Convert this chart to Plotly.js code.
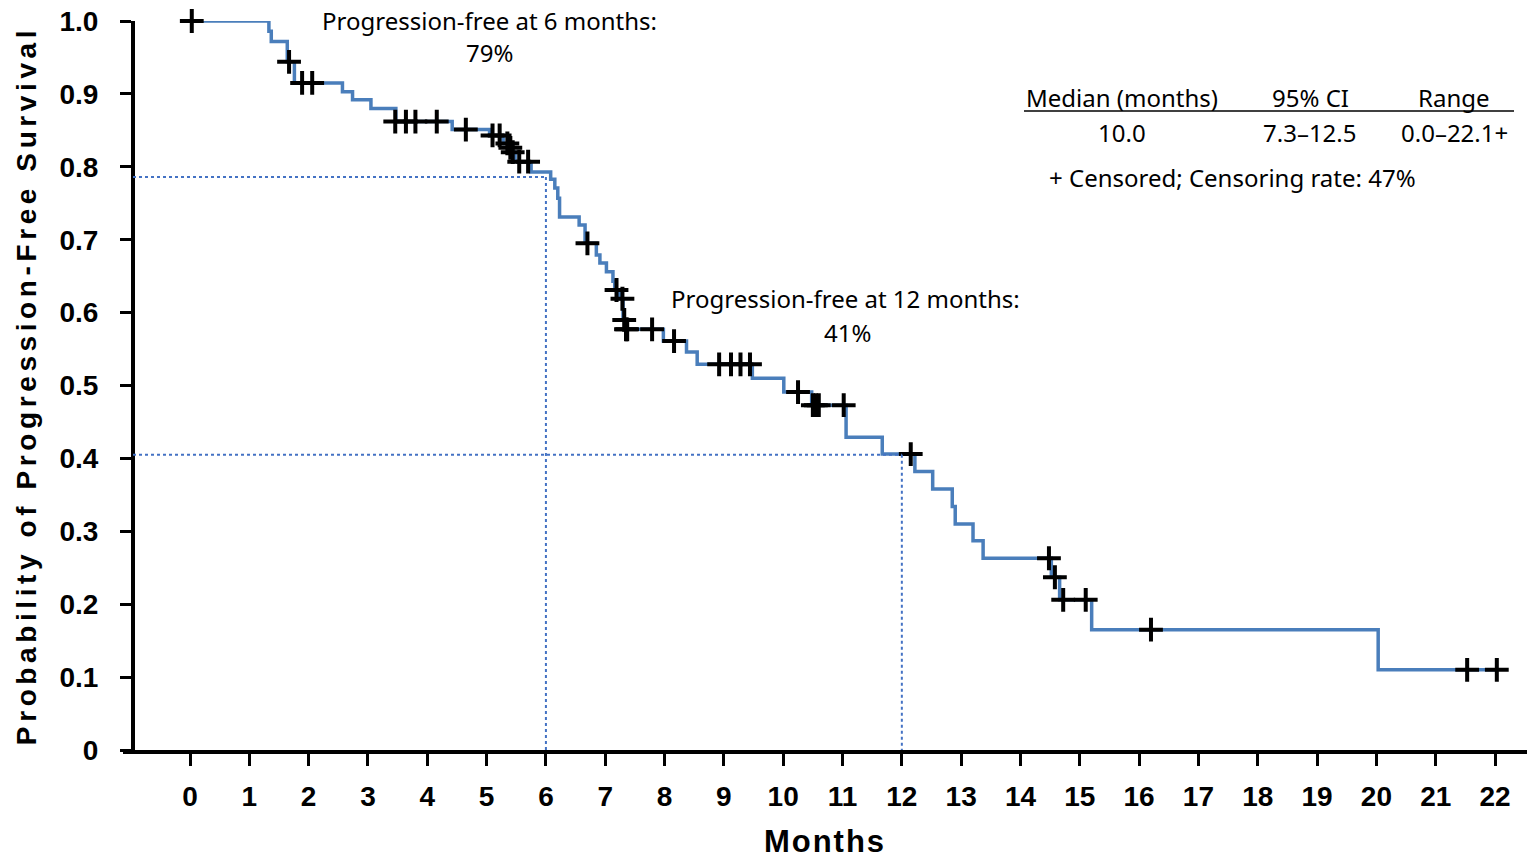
<!DOCTYPE html>
<html>
<head>
<meta charset="utf-8">
<script src="https://cdn.plot.ly/plotly-3.0.1.min.js"></script>
<style>
  html, body { margin: 0; padding: 0; background: #fff; }
  #chart { width: 1527px; height: 859px; }
  .ytitle { letter-spacing: 4.6px; }
  .xtitle { letter-spacing: 2px; }
</style>
</head>
<body>
<div id="chart"></div>
<script>
// Kaplan-Meier step curve (event times, survival after each event)
const kmMonths = [0, 1.33, 1.37, 1.64, 1.76, 2.57, 2.74, 3.05, 3.47, 4.42, 5.05, 5.28, 5.44, 5.48, 5.75,
  6.08, 6.15, 6.2, 6.23, 6.56, 6.66, 6.85, 6.91, 7.02, 7.13, 7.16, 7.24, 7.3, 7.34, 7.98, 8.37, 8.55,
  9.48, 10.01, 10.48, 11.06, 11.67, 12.22, 12.52, 12.85, 12.9, 13.2, 13.37, 14.52, 14.66, 15.2, 20.03, 22.03];
const kmSurvival = [1.0, 0.986, 0.972, 0.944, 0.915, 0.903, 0.892, 0.880, 0.862, 0.851, 0.843, 0.832, 0.82, 0.807, 0.793,
  0.783, 0.771, 0.757, 0.731, 0.72, 0.695, 0.679, 0.668, 0.656, 0.643, 0.631, 0.619, 0.59, 0.577, 0.561, 0.546, 0.529,
  0.51, 0.491, 0.473, 0.429, 0.406, 0.382, 0.358, 0.334, 0.31, 0.287, 0.263, 0.237, 0.206, 0.165, 0.11, 0.11];

// Censored observations
const censorMonths = [0.03, 1.67, 1.89, 2.06, 3.46, 3.64, 3.8, 4.16, 4.65, 5.1, 5.22, 5.35, 5.4, 5.44, 5.55, 5.7,
  6.7, 7.19, 7.29, 7.32, 7.35, 7.37, 7.79, 8.16, 8.92, 9.12, 9.28, 9.44, 10.25, 10.5, 10.55, 10.6, 11.02,
  12.15, 14.48, 14.58, 14.72, 15.1, 16.2, 21.53, 22.03];
const censorSurvival = [1.0, 0.944, 0.915, 0.915, 0.862, 0.862, 0.862, 0.862, 0.851, 0.843, 0.843, 0.832, 0.826, 0.82, 0.807, 0.807,
  0.695, 0.631, 0.619, 0.59, 0.577, 0.577, 0.577, 0.561, 0.529, 0.529, 0.529, 0.529, 0.491, 0.473, 0.473, 0.473, 0.473,
  0.406, 0.263, 0.237, 0.206, 0.206, 0.165, 0.11, 0.11];

// Landmarks
const landmarkMonths = [6, 12];
const landmarkSurvival = [0.786, 0.405];
const landmarkLabels = ["Progression-free at 6 months:", "Progression-free at 12 months:"];
const landmarkPct = ["79%", "41%"];

// Summary table
const tableHeaders = ["Median (months)", "95% CI", "Range"];
const tableValues = ["10.0", "7.3\u201312.5", "0.0\u201322.1+"];
const censorNote = "+ Censored; Censoring rate: 47%";

// Axis ticks
const xTicks = [0,1,2,3,4,5,6,7,8,9,10,11,12,13,14,15,16,17,18,19,20,21,22];
const yTicks = [0, 0.1, 0.2, 0.3, 0.4, 0.5, 0.6, 0.7, 0.8, 0.9, 1.0];
const yTickText = ["0", "0.1", "0.2", "0.3", "0.4", "0.5", "0.6", "0.7", "0.8", "0.9", "1.0"];

// --- layout helpers (pixel -> paper) ---
const W = 1527, H = 859, L = 123, R = 0, T = 21, B = 109;
const PW = W - L - R, PH = H - T - B;
const px = v => (v - L) / PW;
const py = v => (H - B - v) / PH;

const blue = "#4a7ebb";
const dotBlue = "#4472c4";
const yAxisPos = px(133);

const traces = [
  {
    x: kmMonths, y: kmSurvival, type: "scatter", mode: "lines",
    line: { shape: "hv", color: blue, width: 3.5 },
    cliponaxis: false, hoverinfo: "skip", showlegend: false
  },
  {
    x: censorMonths, y: censorSurvival, type: "scatter", mode: "markers",
    marker: { symbol: "cross-thin", size: 17, color: "#000", line: { color: "#000", width: 4 } },
    cliponaxis: false, hoverinfo: "skip", showlegend: false
  }
];

const shapes = [];
landmarkMonths.forEach((m, i) => {
  shapes.push({ type: "line", xref: "paper", yref: "y", x0: yAxisPos, x1: px(190 + m * 59.32), y0: landmarkSurvival[i], y1: landmarkSurvival[i],
    line: { color: dotBlue, width: 2, dash: "dot" } });
  shapes.push({ type: "line", xref: "x", yref: "y", x0: m, x1: m, y0: landmarkSurvival[i], y1: 0,
    line: { color: dotBlue, width: 2, dash: "dot" } });
});
shapes.push({ type: "line", xref: "paper", yref: "paper", x0: px(1024), x1: px(1514), y0: py(111), y1: py(111),
  line: { color: "#000", width: 1.5 } });

const annFont = { family: "Noto Sans, Open Sans, sans-serif", size: 24, color: "#000" };
const annotations = [];
const lmPos = [[489, 20, 490, 53], [846, 298, 847, 332]];
landmarkLabels.forEach((t, i) => {
  annotations.push({ text: t, xref: "paper", yref: "paper", x: px(lmPos[i][0]), y: py(lmPos[i][1]), xanchor: "center", yanchor: "middle", showarrow: false, font: annFont });
  annotations.push({ text: landmarkPct[i], xref: "paper", yref: "paper", x: px(lmPos[i][2]), y: py(lmPos[i][3]), xanchor: "center", yanchor: "middle", showarrow: false, font: annFont });
});
const colX = [1122, 1310, 1454];
tableHeaders.forEach((t, i) => {
  annotations.push({ text: t, xref: "paper", yref: "paper", x: px(colX[i]), y: py(97), xanchor: "center", yanchor: "middle", showarrow: false, font: annFont });
});
tableValues.forEach((t, i) => {
  annotations.push({ text: t, xref: "paper", yref: "paper", x: px(colX[i]), y: py(132), xanchor: "center", yanchor: "middle", showarrow: false, font: annFont });
});
annotations.push({ text: censorNote, xref: "paper", yref: "paper", x: px(1232), y: py(177), xanchor: "center", yanchor: "middle", showarrow: false, font: annFont });

const arialLike = "Liberation Sans, Arial, sans-serif";

const layout = {
  width: W, height: H,
  margin: { l: L, r: R, t: T, b: B, pad: 0 },
  paper_bgcolor: "#fff", plot_bgcolor: "#fff",
  showlegend: false,
  xaxis: {
    range: [(L - 190) / 59.32, (W - 190) / 59.32],
    tickvals: xTicks, ticktext: xTicks.map(String),
    showgrid: false, zeroline: false,
    showline: true, linecolor: "#000", linewidth: 4,
    ticks: "outside", ticklen: 12, tickwidth: 3, tickcolor: "#000",
    ticklabelstandoff: 6,
    tickfont: { family: arialLike, size: 28, weight: "bold", color: "#000" },
    title: { text: "Months", standoff: 22,
      font: { family: arialLike, size: 31, weight: "bold", color: "#000" } },
    fixedrange: true
  },
  yaxis: {
    range: [0, 1.0],
    anchor: "free", position: yAxisPos,
    tickvals: yTicks, ticktext: yTickText,
    showgrid: false, zeroline: false,
    showline: true, linecolor: "#000", linewidth: 4,
    ticks: "outside", ticklen: 11, tickwidth: 3, tickcolor: "#000",
    ticklabelstandoff: 16,
    tickfont: { family: arialLike, size: 28, weight: "bold", color: "#000" },
    title: { text: "Probability of Progression-Free Survival", standoff: 14,
      font: { family: arialLike, size: 28, weight: "bold", color: "#000" } },
    fixedrange: true
  },
  shapes: shapes,
  annotations: annotations
};

Plotly.newPlot("chart", traces, layout, { displayModeBar: false, staticPlot: true });
</script>
</body>
</html>
